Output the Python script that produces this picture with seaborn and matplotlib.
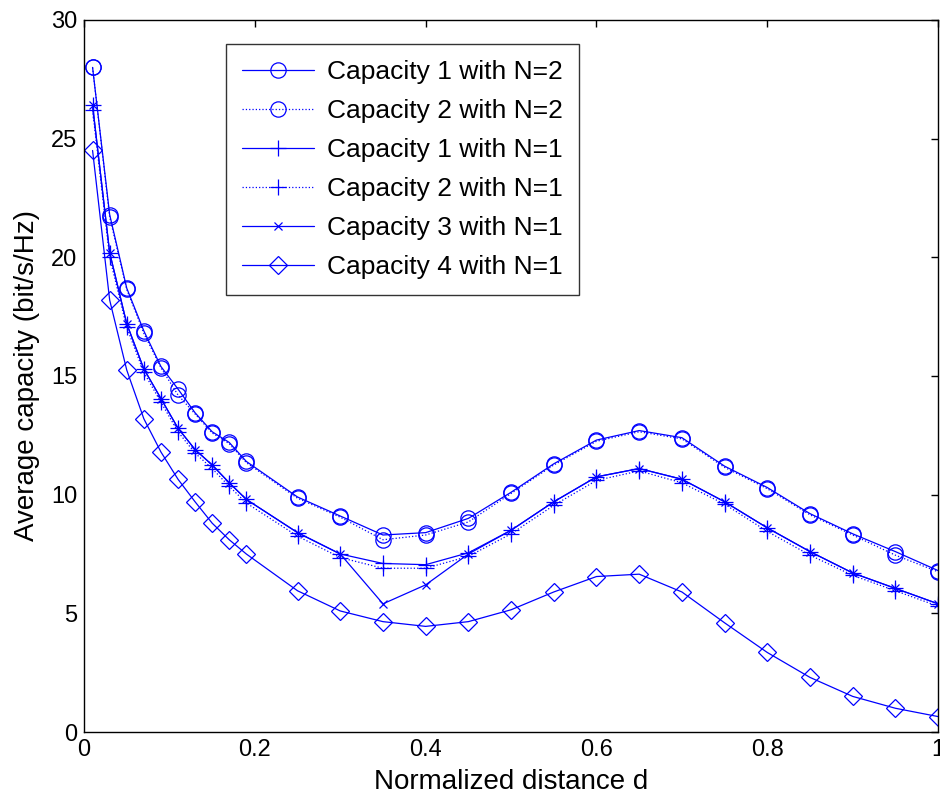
import matplotlib
matplotlib.use("Agg")
import matplotlib.pyplot as plt
import seaborn as sns
import pandas as pd

d = [0.01, 0.03, 0.05, 0.07, 0.09, 0.11, 0.13, 0.15, 0.17, 0.19,
     0.25, 0.30, 0.35, 0.40, 0.45, 0.50, 0.55, 0.60, 0.65, 0.70,
     0.75, 0.80, 0.85, 0.90, 0.95, 1.00]

cap1_n2 = [28.0, 21.8, 18.7, 16.9, 15.4, 14.45, 13.45, 12.65, 12.2, 11.4,
           9.9, 9.1, 8.3, 8.4, 9.0, 10.1, 11.3, 12.3, 12.7, 12.4,
           11.2, 10.3, 9.2, 8.35, 7.6, 6.8]
cap2_n2 = [28.0, 21.7, 18.65, 16.8, 15.35, 14.2, 13.4, 12.6, 12.15, 11.35,
           9.85, 9.05, 8.1, 8.3, 8.85, 10.05, 11.25, 12.25, 12.65, 12.35,
           11.15, 10.25, 9.15, 8.3, 7.45, 6.75]
cap1_n1 = [26.4, 20.2, 17.2, 15.3, 14.05, 12.8, 11.9, 11.25, 10.5, 9.8,
           8.4, 7.5, 7.1, 7.05, 7.55, 8.5, 9.7, 10.75, 11.1, 10.65,
           9.7, 8.6, 7.6, 6.7, 6.05, 5.4]
cap2_n1 = [26.2, 20.0, 17.05, 15.15, 13.9, 12.65, 11.75, 11.1, 10.35, 9.65,
           8.25, 7.35, 6.9, 6.9, 7.4, 8.35, 9.55, 10.6, 11.0, 10.5,
           9.6, 8.45, 7.45, 6.6, 5.95, 5.3]
cap3_n1 = [26.4, 20.2, 17.2, 15.3, 14.05, 12.8, 11.9, 11.25, 10.5, 9.8,
           8.4, 7.5, 5.4, 6.2, 7.5, 8.5, 9.7, 10.75, 11.1, 10.65,
           9.7, 8.6, 7.6, 6.7, 6.05, 5.4]
cap4_n1 = [24.5, 18.2, 15.25, 13.2, 11.8, 10.65, 9.7, 8.8, 8.1, 7.5,
           5.95, 5.1, 4.65, 4.45, 4.65, 5.15, 5.9, 6.55, 6.65, 5.9,
           4.6, 3.35, 2.3, 1.5, 1.0, 0.65]

labels = ["Capacity 1 with N=2", "Capacity 2 with N=2", "Capacity 1 with N=1",
          "Capacity 2 with N=1", "Capacity 3 with N=1", "Capacity 4 with N=1"]
series = [cap1_n2, cap2_n2, cap1_n1, cap2_n1, cap3_n1, cap4_n1]
markers = ["o", "o", "+", "+", "x", "D"]
styles = ["-", ":", "-", ":", "-", "-"]
msizes = [11, 11, 11, 11, 6, 9]

sns.set_style("white")
plt.rcParams["font.family"] = ["Liberation Sans", "DejaVu Sans"]
plt.rcParams["text.color"] = "black"
plt.rcParams["axes.labelcolor"] = "black"

fig = plt.figure(figsize=(9.4, 7.98), dpi=100)
ax = fig.add_axes([0.0894, 0.0827, 0.9086, 0.8923])

blue = "#0000FF"
for lab, ys, m, ls, ms in zip(labels, series, markers, styles, msizes):
    df = pd.DataFrame({"d": d, "c": ys})
    sns.lineplot(data=df, x="d", y="c", ax=ax, color=blue, linestyle=ls,
                 linewidth=0.9, marker=m, markersize=ms, markerfacecolor="none",
                 markeredgecolor=blue, markeredgewidth=0.9, label=lab)

ax.set_xlim(0, 1)
ax.set_ylim(0, 30)
ax.set_xticks([0, 0.2, 0.4, 0.6, 0.8, 1.0])
ax.set_xticklabels(["0", "0.2", "0.4", "0.6", "0.8", "1"])
ax.set_yticks([0, 5, 10, 15, 20, 25, 30])
ax.tick_params(direction="in", top=True, right=True, labelsize=17, length=5,
               width=1, colors="black", pad=5)
for s in ax.spines.values():
    s.set_color("black")
    s.set_linewidth(1)
ax.set_xlabel("Normalized distance d", fontsize=20, labelpad=6)
ax.set_ylabel("Average capacity (bit/s/Hz)", fontsize=20, labelpad=8)

leg = ax.legend(loc="upper left", bbox_to_anchor=(0.166, 0.966), fontsize=19,
                frameon=True, fancybox=False, edgecolor="black",
                handlelength=2.75, handletextpad=0.5, borderpad=0.6,
                labelspacing=0.57, borderaxespad=0)
leg.get_frame().set_linewidth(1)
for t in leg.get_texts():
    t.set_color("black")

fig.savefig("out.png", dpi=100)
